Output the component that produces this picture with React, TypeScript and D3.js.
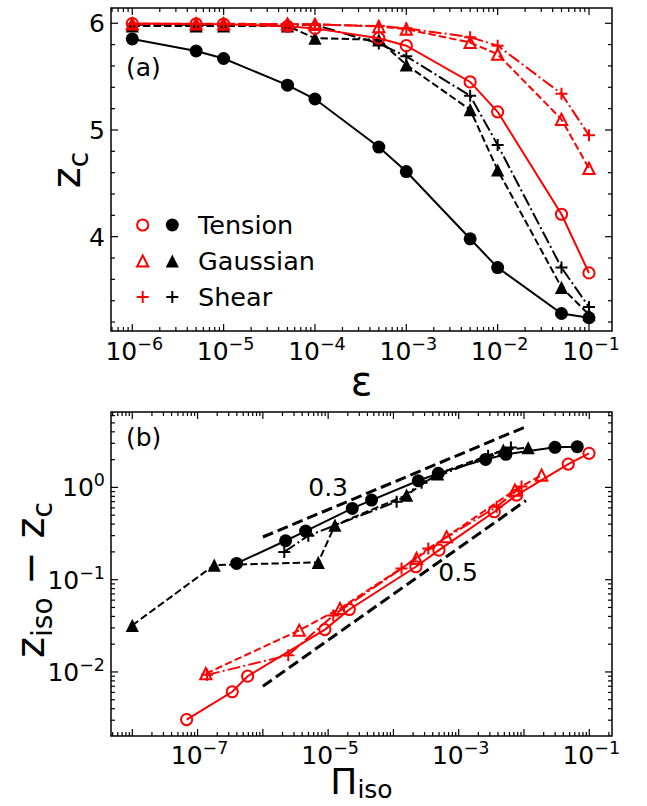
import React from "react";
import * as d3 from "d3";

// ---------- Panel (a) data ----------
const eps = [1e-6, 5e-6, 1e-5, 5e-5, 1e-4, 5e-4, 1e-3, 5e-3, 1e-2, 5e-2, 1e-1];
const zcTensionBlack = [5.853, 5.74, 5.67, 5.42, 5.29, 4.84, 4.61, 3.98, 3.71, 3.28, 3.24];
const zcGaussBlack = [5.975, 5.975, 5.975, 5.975, 5.86, 5.845, 5.61, 5.19, 4.625, 3.525, 3.27];
const zcShearBlack = [5.985, 5.985, 5.985, 5.985, 5.985, 5.81, 5.69, 5.32, 4.86, 3.71, 3.34];
const zcTensionRed = [5.997, 5.994, 5.991, 5.971, 5.952, 5.86, 5.79, 5.45, 5.17, 4.21, 3.66];
const zcGaussRed = [5.995, 5.995, 5.995, 5.993, 5.99, 5.969, 5.944, 5.82, 5.71, 5.1, 4.64];
const zcShearRed = [5.992, 5.992, 5.992, 5.99, 5.988, 5.975, 5.953, 5.87, 5.79, 5.34, 4.95];

// ---------- Panel (b) data ----------
const piTensionBlack = [3.96e-7, 2.23e-6, 4.52e-6, 2.34e-5, 4.63e-5, 2.4e-4, 4.86e-4, 2.58e-3, 5.28e-3, 2.98e-2, 6.55e-2];
const dzTensionBlack = [0.15, 0.264, 0.336, 0.592, 0.729, 1.18, 1.42, 2.01, 2.28, 2.72, 2.76];
const piGaussBlack = [1.0e-8, 1.8e-7, 7.06e-6, 1.27e-5, 1.59e-4, 4.75e-4, 4.82e-3, 1.16e-2];
const dzGaussBlack = [0.032, 0.144, 0.154, 0.39, 0.826, 1.4, 2.54, 2.69];
const piShearBlack = [2.13e-6, 4.97e-6, 1.12e-4, 2.7e-4, 2.82e-3, 6.3e-3];
const dzShearBlack = [0.2, 0.3, 0.7, 1.12, 2.2, 2.7];
const piTensionRed = [6.8e-8, 3.4e-7, 5.85e-7, 8.9e-6, 2.11e-5, 2.21e-4, 4.98e-4, 3.51e-3, 7.71e-3, 4.76e-2, 9.9e-2];
const dzTensionRed = [0.00305, 0.0061, 0.009, 0.0288, 0.0475, 0.138, 0.209, 0.545, 0.826, 1.79, 2.34];
const piGaussRed = [1.34e-7, 3.61e-6, 1.52e-5, 2.26e-4, 6.53e-4, 7.26e-3, 1.86e-2];
const dzGaussRed = [0.0096, 0.0283, 0.0487, 0.17, 0.292, 0.935, 1.36];
const piShearRed = [1.4e-7, 2.45e-6, 1.2e-5, 1.33e-4, 3.42e-4, 3.81e-3, 9.18e-3];
const dzShearRed = [0.0093, 0.0152, 0.041, 0.132, 0.218, 0.617, 1.02];

// power-law guide lines
const guidePi = [1e-6, 1.07e-2];
const guide03 = [0.29, 4.55];
const guide05 = [0.007, 0.72];

const legendLabels = ["Tension", "Gaussian", "Shear"];
const topXTickExps = [-6, -5, -4, -3, -2, -1];
const topYTicks = [4, 5, 6];
const botXLabelExps = [-7, -5, -3, -1];
const botYLabelExps = [-2, -1, 0];

const FONT = "DejaVu Sans, Liberation Sans, sans-serif";
const RED = "#ff0000";
const DASH = "7.4,3.2";
const DASHDOT = "12.8,3.2,2,3.2";
const TICK_FS = 25;
const SUP_FS = 17.5;

type Marker = "circle" | "triangle" | "plus";

function MarkerShape({ x, y, kind, filled, color }: { x: number; y: number; kind: Marker; filled: boolean; color: string }) {
  if (kind === "circle") {
    return filled ? (
      <circle cx={x} cy={y} r={6.5} fill={color} />
    ) : (
      <circle cx={x} cy={y} r={5.6} fill="none" stroke={color} strokeWidth={2} />
    );
  }
  if (kind === "triangle") {
    const s = filled ? 6.6 : 5.6;
    const d = `M${x},${y - s}L${x - s},${y + s}L${x + s},${y + s}Z`;
    return filled ? (
      <path d={d} fill={color} />
    ) : (
      <path d={d} fill="none" stroke={color} strokeWidth={2} strokeLinejoin="miter" />
    );
  }
  const s = 6;
  return <path d={`M${x - s},${y}H${x + s}M${x},${y - s}V${y + s}`} stroke={color} strokeWidth={2} fill="none" />;
}

function Series({ xs, ys, xScale, yScale, color, dash, kind, filled, clip }: any) {
  const pts: [number, number][] = xs.map((v: number, i: number) => [xScale(v), yScale(ys[i])]);
  const line = d3.line();
  return (
    <g clipPath={`url(#${clip})`}>
      <path d={line(pts) || ""} fill="none" stroke={color} strokeWidth={2} strokeDasharray={dash || undefined} />
      {pts.map((p, i) => (
        <MarkerShape key={i} x={p[0]} y={p[1]} kind={kind} filled={filled} color={color} />
      ))}
    </g>
  );
}

function logTickValues(scale: any) {
  const [a, b] = scale.domain();
  const lo = Math.floor(Math.log10(a));
  const hi = Math.ceil(Math.log10(b));
  const major: number[] = [];
  const minor: number[] = [];
  for (let k = lo; k <= hi; k++) {
    for (let m = 1; m <= 9; m++) {
      const v = m * Math.pow(10, k);
      if (v < a * 0.9999 || v > b * 1.0001) continue;
      (m === 1 ? major : minor).push(v);
    }
  }
  return { major, minor };
}

function Frame({ x0, x1, y0, y1, xMajor, xMinor, yMajor, yMinor }: any) {
  const ML = 7, MN = 4;
  const els: any[] = [];
  xMajor.forEach((x: number, i: number) => {
    els.push(<line key={`xb${i}`} x1={x} x2={x} y1={y1} y2={y1 - ML} />);
    els.push(<line key={`xt${i}`} x1={x} x2={x} y1={y0} y2={y0 + ML} />);
  });
  xMinor.forEach((x: number, i: number) => {
    els.push(<line key={`xbm${i}`} x1={x} x2={x} y1={y1} y2={y1 - MN} />);
    els.push(<line key={`xtm${i}`} x1={x} x2={x} y1={y0} y2={y0 + MN} />);
  });
  yMajor.forEach((y: number, i: number) => {
    els.push(<line key={`yl${i}`} x1={x0} x2={x0 + ML} y1={y} y2={y} />);
    els.push(<line key={`yr${i}`} x1={x1} x2={x1 - ML} y1={y} y2={y} />);
  });
  yMinor.forEach((y: number, i: number) => {
    els.push(<line key={`ylm${i}`} x1={x0} x2={x0 + MN} y1={y} y2={y} />);
    els.push(<line key={`yrm${i}`} x1={x1} x2={x1 - MN} y1={y} y2={y} />);
  });
  return (
    <g stroke="#000" strokeWidth={1.2}>
      {els}
      <rect x={x0} y={y0} width={x1 - x0} height={y1 - y0} fill="none" strokeWidth={1.5} />
    </g>
  );
}

function Pow10({ x, y, exp, anchor }: { x: number; y: number; exp: number; anchor: string }) {
  const e = exp < 0 ? `\u2212${-exp}` : `${exp}`;
  return (
    <text x={x} y={y} textAnchor={anchor as any} fontSize={TICK_FS} fontFamily={FONT} fill="#000">
      10
      <tspan dy={-10} fontSize={SUP_FS}>
        {e}
      </tspan>
    </text>
  );
}

export default function App() {
  const aL = 111, aR = 612, aT = 8, aB = 331;
  const bL = 111, bR = 612, bT = 412, bB = 736;

  const xA = d3.scaleLog().domain([Math.pow(10, -6.233), Math.pow(10, -0.748)]).range([aL, aR]);
  const yA = d3.scaleLinear().domain([3.116, 6.143]).range([aB, aT]);
  const xB = d3.scaleLog().domain([Math.pow(10, -8.326), Math.pow(10, -0.652)]).range([bL, bR]);
  const yB = d3.scaleLog().domain([Math.pow(10, -2.694), Math.pow(10, 0.817)]).range([bB, bT]);

  const xaT = logTickValues(xA);
  const xbT = logTickValues(xB);
  const ybT = logTickValues(yB);
  const yaMinor = d3.range(3.2, 6.15, 0.2).filter((v) => Math.abs(v - Math.round(v)) > 0.01);

  const topSeries = [
    { ys: zcTensionBlack, color: "#000", dash: "", kind: "circle", filled: true },
    { ys: zcGaussBlack, color: "#000", dash: DASH, kind: "triangle", filled: true },
    { ys: zcShearBlack, color: "#000", dash: DASHDOT, kind: "plus", filled: true },
    { ys: zcTensionRed, color: RED, dash: "", kind: "circle", filled: false },
    { ys: zcGaussRed, color: RED, dash: DASH, kind: "triangle", filled: false },
    { ys: zcShearRed, color: RED, dash: DASHDOT, kind: "plus", filled: false },
  ];
  const botSeries = [
    { xs: piTensionBlack, ys: dzTensionBlack, color: "#000", dash: "", kind: "circle", filled: true },
    { xs: piGaussBlack, ys: dzGaussBlack, color: "#000", dash: DASH, kind: "triangle", filled: true },
    { xs: piShearBlack, ys: dzShearBlack, color: "#000", dash: DASHDOT, kind: "plus", filled: true },
    { xs: piTensionRed, ys: dzTensionRed, color: RED, dash: "", kind: "circle", filled: false },
    { xs: piGaussRed, ys: dzGaussRed, color: RED, dash: DASH, kind: "triangle", filled: false },
    { xs: piShearRed, ys: dzShearRed, color: RED, dash: DASHDOT, kind: "plus", filled: false },
  ];

  const legendKinds: Marker[] = ["circle", "triangle", "plus"];
  const guideLine = d3.line<number>().x((_, i) => xB(guidePi[i]));

  return (
    <svg width={647} height={806} style={{ position: "absolute", left: 0, top: 0, background: "#fff" }} fontFamily={FONT}>
      <defs>
        <clipPath id="clipA">
          <rect x={aL} y={aT} width={aR - aL} height={aB - aT} />
        </clipPath>
        <clipPath id="clipB">
          <rect x={bL} y={bT} width={bR - bL} height={bB - bT} />
        </clipPath>
      </defs>
      <rect x={0} y={0} width={647} height={806} fill="#fff" />

      {/* ---------- panel (a) ---------- */}
      {topSeries.map((s, i) => (
        <Series key={i} xs={eps} ys={s.ys} xScale={xA} yScale={yA} color={s.color} dash={s.dash} kind={s.kind} filled={s.filled} clip="clipA" />
      ))}
      <Frame x0={aL} x1={aR} y0={aT} y1={aB} xMajor={xaT.major.map(xA)} xMinor={xaT.minor.map(xA)} yMajor={topYTicks.map(yA)} yMinor={yaMinor.map(yA)} />
      {topXTickExps.map((e) => (
        <Pow10 key={e} x={xA(Math.pow(10, e)) + 2} y={aB + 29} exp={e} anchor="middle" />
      ))}
      {topYTicks.map((t) => (
        <text key={t} x={aL - 6} y={yA(t)} dy="0.36em" textAnchor="end" fontSize={TICK_FS} fill="#000">
          {t}
        </text>
      ))}
      <text x={126} y={67} dy="0.36em" fontSize={TICK_FS} fill="#000">
        (a)
      </text>
      {legendLabels.map((lab, i) => {
        const y = 225 + i * 36;
        return (
          <g key={lab}>
            <MarkerShape x={142.7} y={y} kind={legendKinds[i]} filled={false} color={RED} />
            <MarkerShape x={172.3} y={y} kind={legendKinds[i]} filled={true} color="#000" />
            <text x={198} y={y} dy="0.36em" fontSize={25.5} fill="#000">
              {lab}
            </text>
          </g>
        );
      })}
      <text x={(aL + aR) / 2} y={395} textAnchor="middle" fontSize={40} fill="#000">
        ε
      </text>
      <text transform={`translate(80,170) rotate(-90)`} textAnchor="middle" fontSize={40} fill="#000">
        z
        <tspan dy={8} fontSize={28}>
          c
        </tspan>
      </text>

      {/* ---------- panel (b) ---------- */}
      <g clipPath="url(#clipB)">
        <path d={guideLine.y((_, i) => yB(guide03[i]))(guide03) || ""} fill="none" stroke="#000" strokeWidth={3} strokeDasharray="11,5" />
        <path d={guideLine.y((_, i) => yB(guide05[i]))(guide05) || ""} fill="none" stroke="#000" strokeWidth={3} strokeDasharray="11,5" />
      </g>
      {botSeries.map((s, i) => (
        <Series key={i} xs={s.xs} ys={s.ys} xScale={xB} yScale={yB} color={s.color} dash={s.dash} kind={s.kind} filled={s.filled} clip="clipB" />
      ))}
      <Frame x0={bL} x1={bR} y0={bT} y1={bB} xMajor={xbT.major.map(xB)} xMinor={xbT.minor.map(xB)} yMajor={ybT.major.map(yB)} yMinor={ybT.minor.map(yB)} />
      {botXLabelExps.map((e) => (
        <Pow10 key={e} x={xB(Math.pow(10, e)) + 2} y={bB + 28} exp={e} anchor="middle" />
      ))}
      {botYLabelExps.map((e) => (
        <Pow10 key={e} x={bL - 6} y={yB(Math.pow(10, e)) + 9} exp={e} anchor="end" />
      ))}
      <text x={126} y={437} dy="0.36em" fontSize={TICK_FS} fill="#000">
        (b)
      </text>
      <text x={xB(1e-5)} y={yB(1.0)} dy="0.36em" textAnchor="middle" fontSize={TICK_FS} fill="#000">
        0.3
      </text>
      <text x={xB(9.8e-4)} y={yB(0.122)} dy="0.36em" textAnchor="middle" fontSize={TICK_FS} fill="#000">
        0.5
      </text>
      <text x={(bL + bR) / 2} y={794} textAnchor="middle" fontSize={36} fill="#000">
        Π
        <tspan dy={4} fontSize={25}>
          iso
        </tspan>
      </text>
      <text transform={`translate(44,580) rotate(-90)`} textAnchor="middle" fontSize={40} fill="#000">
        z
        <tspan dy={8} fontSize={28}>
          iso
        </tspan>
        <tspan dy={-8}> − z</tspan>
        <tspan dy={8} fontSize={28}>
          c
        </tspan>
      </text>
    </svg>
  );
}
